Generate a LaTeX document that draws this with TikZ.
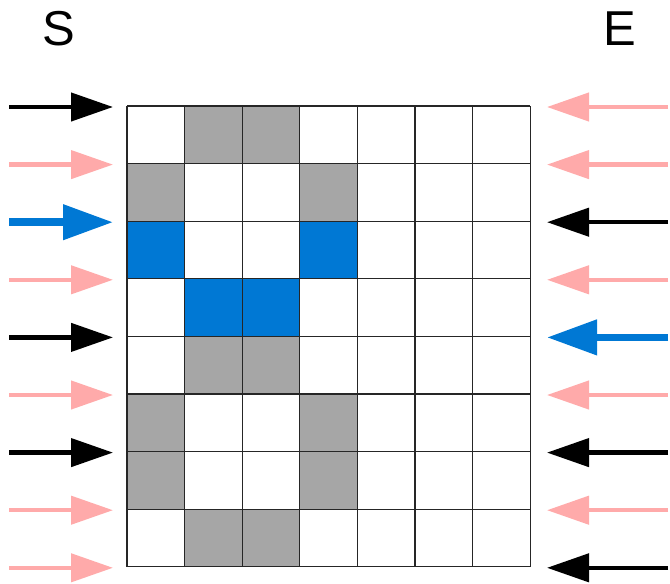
\documentclass[tikz,border=0pt]{standalone}
\usepackage{fontspec}
\setmainfont{Liberation Sans}
\usetikzlibrary{arrows.meta}
\definecolor{cellgray}{HTML}{A6A6A6}
\definecolor{cellblue}{HTML}{0078D4}
\definecolor{lightred}{HTML}{FFAAAA}
\tikzset{
	slimarrow/.style={line width=4.3pt, -{Triangle[length=42pt,width=28pt]}},
	boldarrow/.style={line width=7.5pt, -{Triangle[length=50pt,width=34pt]}},
	gridline/.style={line width=1.1pt, black!85},
	label/.style={inner sep=0pt, font=\fontsize{49}{49}\selectfont}
}
\begin{document}
\begin{tikzpicture}[x=1pt, y=-1pt]
		\useasboundingbox (0,0) rectangle (670,584);
		\node[label] (start) at (59,28.5) {S};
		\node[label] (end) at (620,28.5) {E};
		\foreach \c/\r/\col in {1/0/cellgray, 2/0/cellgray, 0/1/cellgray, 3/1/cellgray, 0/2/cellblue, 3/2/cellblue, 1/3/cellblue, 2/3/cellblue, 1/4/cellgray, 2/4/cellgray, 0/5/cellgray, 3/5/cellgray, 0/6/cellgray, 3/6/cellgray, 1/7/cellgray, 2/7/cellgray}
			\fill[\col] ({127+57.6*\c},{106+57.6*\r}) rectangle ++(57.6,57.6);
		\foreach \c in {0,...,7}
			\draw[gridline] ({127+57.6*\c},106) -- ++(0,460.8);
		\foreach \r in {0,...,8}
			\draw[gridline] (127,{106+57.6*\r}) -- ++(403.2,0);
		\foreach \r/\lc/\ls/\rc/\rs in {0/black/slimarrow/lightred/slimarrow, 1/lightred/slimarrow/lightred/slimarrow, 2/cellblue/boldarrow/black/slimarrow, 3/lightred/slimarrow/lightred/slimarrow, 4/black/slimarrow/cellblue/boldarrow, 5/lightred/slimarrow/lightred/slimarrow, 6/black/slimarrow/black/slimarrow, 7/lightred/slimarrow/lightred/slimarrow, 8/lightred/slimarrow/black/slimarrow}{
			\coordinate (lfrom\r) at (9,{107+57.6*\r});
			\coordinate (lto\r) at (113,{107+57.6*\r});
			\coordinate (rfrom\r) at (668,{107+57.6*\r});
			\coordinate (rto\r) at (547,{107+57.6*\r});
			\draw[\ls, \lc] (lfrom\r) -- (lto\r);
			\draw[\rs, \rc] (rfrom\r) -- (rto\r);
		}
	\end{tikzpicture}
\end{document}
